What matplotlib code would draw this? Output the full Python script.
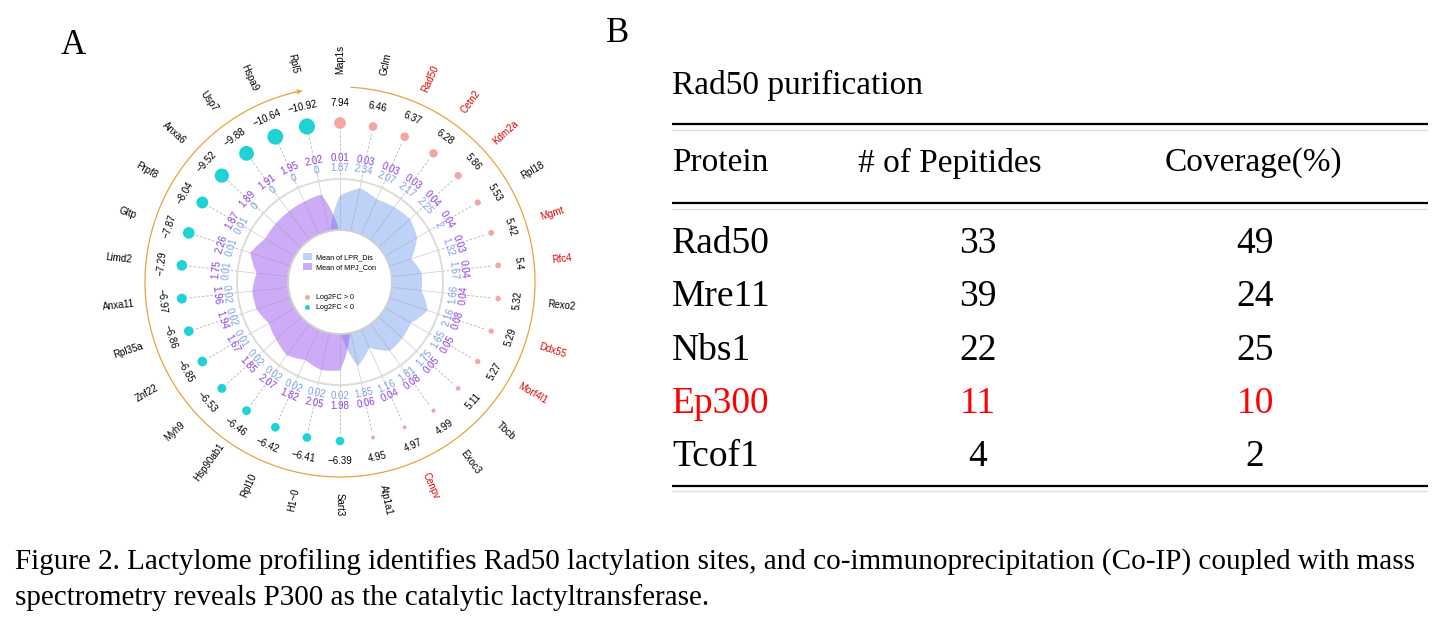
import numpy as np
import matplotlib
matplotlib.use("Agg")
import matplotlib.pyplot as plt
from matplotlib.path import Path
from matplotlib.patches import PathPatch, Circle, Patch
from matplotlib.lines import Line2D

# ---------------- data (panel A) ----------------
genes = ['Map1s', 'Gclm', 'Rad50', 'Cetn2', 'Kdm2a', 'Rpl18', 'Mgmt', 'Rfc4',
         'Rexo2', 'Ddx55', 'Morf4l1', 'Tbcb', 'Exoc3', 'Cenpv', 'Atp1a1',
         'Sart3', 'H1~0', 'Rpl10', 'Hsp90ab1', 'Myh9', 'Znf22', 'Rpl35a',
         'Anxa11', 'Limd2', 'Gltp', 'Prpf8', 'Anxa6', 'Usp7', 'Hspa9', 'Rpl5']
log2fc = [7.94, 6.46, 6.37, 6.28, 5.86, 5.53, 5.42, 5.4, 5.32, 5.29, 5.27, 5.11,
          4.99, 4.97, 4.95,
          -6.39, -6.41, -6.42, -6.46, -6.53, -6.85, -6.86, -6.97, -7.29, -7.87,
          -8.04, -9.52, -9.88, -10.64, -10.92]
mean_lpr_dis = [1.87, 2.34, 2.07, 2.17, 2.25, 2, 1.32, 1.67, 1.66, 2.16, 1.65,
                1.75, 1.81, 1.16, 1.85,
                0.02, 0.02, 0.02, 0.02, 0.02, 0.01, 0.02, 0.02, 0.01, 0.01,
                0.01, 0, 0, 0, 0]
mean_mpj_con = [0.01, 0.03, 0.03, 0.03, 0.04, 0.04, 0.03, 0.04, 0.04, 0.08,
                0.05, 0.05, 0.08, 0.04, 0.06,
                1.98, 2.05, 1.82, 2.07, 1.85, 1.67, 1.94, 1.96, 1.75, 2.26,
                1.87, 1.89, 1.91, 1.95, 2.02]
red_genes = ['Rad50', 'Cetn2', 'Kdm2a', 'Mgmt', 'Rfc4', 'Ddx55', 'Morf4l1', 'Cenpv']

# ---------------- data (panel B) ----------------
table_title = 'Rad50 purification'
col_headers = ['Protein', '# of Pepitides', 'Coverage(%)']
proteins = ['Rad50', 'Mre11', 'Nbs1', 'Ep300', 'Tcof1']
peptides = [33, 39, 22, 11, 4]
coverage = [49, 24, 25, 10, 2]
highlight = ['Ep300']
caption = ['Figure 2. Lactylome profiling identifies Rad50 lactylation sites, and co-immunoprecipitation (Co-IP) coupled with mass',
           'spectrometry reveals P300 as the catalytic lactyltransferase.']

# ---------------- styling ----------------
W, H = 1442, 621
BLUE_FILL = '#7FA5F0'
PURP_FILL = '#9B59F0'
BLUE_TXT = '#7E9FE8'
PURP_TXT = '#8A3FE0'
PINK = '#F4A7A2'
CYAN = '#1ED2D6'
ORANGE = '#E9A33B'
SANS = ['Liberation Sans', 'DejaVu Sans']
SERIF = ['Liberation Serif', 'DejaVu Serif']
FS_A = 7.0

fig = plt.figure(figsize=(W / 100, H / 100), dpi=100)
fig.patch.set_facecolor('white')

cx, cy, R = 340, 282, 240
ax = fig.add_axes([(cx - R) / W, (H - cy - R) / H, 2 * R / W, 2 * R / H],
                  projection='polar')
ax.set_theta_zero_location('N')
ax.set_theta_direction(-1)
ax.set_ylim(0, R)
ax.set_axis_off()

n = len(genes)
theta = np.arange(n) * 2 * np.pi / n
tdeg = np.rad2deg(theta)

r0, k = 48.0, 20.5          # radar base radius and px per unit
r_hole, r_ring = 52, 103
r_blue, r_purp = 114, 124
r_dot, r_val, r_arc, r_gene = 159, 179, 195, 223


def radar(vals, color, z):
    t = np.append(theta, 2 * np.pi)
    r = r0 + k * np.append(vals, vals[0])
    verts = np.column_stack([t, r])
    verts = np.vstack([verts, [[2 * np.pi, 0.0], [0.0, 0.0], verts[0]]])
    p = Path(verts, _interpolation_steps=40)
    ax.add_patch(PathPatch(p, facecolor=color, alpha=0.5, lw=0, zorder=z,
                           transform=ax.transData))


radar(np.array(mean_lpr_dis), BLUE_FILL, 1)
radar(np.array(mean_mpj_con), PURP_FILL, 1.1)

# spokes and rings
ax.vlines(theta, r_hole, r_ring, colors='#9a9a9a', lw=0.5, alpha=0.5, zorder=2)
ax.vlines(theta, r_ring, r_dot - 6, colors='#b5b5b5', lw=0.6,
          linestyles=(0, (3, 2)), zorder=2)
ax.add_patch(Circle((0.5, 0.5), r_ring / (2 * R), transform=ax.transAxes,
                    fill=False, ec='#dcdcdc', lw=1.4, zorder=2.5))
ax.add_patch(Circle((0.5, 0.5), r_hole / (2 * R), transform=ax.transAxes,
                    fc='white', ec='#cfcfcf', lw=1.4, zorder=3))


def tan_rot(d):
    return (90 - d) % 180 - 90


def gene_rot(d):
    return 90 - d if d <= 180 else 270 - d


def fmt(v):
    return f'{v:g}'.replace('-', '\u2212')


# inner numbers
for t, d, b, p in zip(theta, tdeg, mean_lpr_dis, mean_mpj_con):
    ax.text(t, r_blue, fmt(b), color=BLUE_TXT, fontsize=FS_A, family=SANS,
            rotation=tan_rot(d), rotation_mode='anchor', ha='center',
            va='center', zorder=4)
    ax.text(t, r_purp, fmt(p), color=PURP_TXT, fontsize=FS_A, family=SANS,
            rotation=tan_rot(d), rotation_mode='anchor', ha='center',
            va='center', zorder=4)

# dots
absfc = np.abs(np.array(log2fc))
smin, smax = 8, 135
sizes = smin + (absfc - absfc.min()) / (absfc.max() - absfc.min()) * (smax - smin)
dot_cols = [PINK if v > 0 else CYAN for v in log2fc]
ax.scatter(theta, np.full(n, r_dot), s=sizes, c=dot_cols, lw=0, zorder=4)

# value labels and gene labels
for t, d, v, g in zip(theta, tdeg, log2fc, genes):
    ax.text(t, r_val, fmt(v), color='black', fontsize=FS_A, family=SANS,
            rotation=tan_rot(d), rotation_mode='anchor', ha='center',
            va='center', zorder=4)
    ax.text(t, r_gene, g, color='#E00000' if g in red_genes else 'black',
            fontsize=FS_A, family=SANS, rotation=gene_rot(d),
            rotation_mode='anchor', ha='center', va='center', zorder=4,
            clip_on=False)

# orange arc with arrow
arc_t = np.deg2rad(np.linspace(3.3, 348.3, 400))
ax.plot(arc_t, np.full(arc_t.size, r_arc), color=ORANGE, lw=0.9, zorder=3,
        clip_on=False)
ax.annotate('', xy=(np.deg2rad(348.9), r_arc), xytext=(np.deg2rad(346.5), r_arc),
            arrowprops=dict(arrowstyle='->', color=ORANGE, lw=0.9,
                            mutation_scale=7, shrinkA=0, shrinkB=0), zorder=3)

# legends inside hole
h1 = [Patch(facecolor=BLUE_FILL, alpha=0.5, lw=0),
      Patch(facecolor=PURP_FILL, alpha=0.5, lw=0)]
leg1 = ax.legend(h1, ['Mean of LPR_Dis', 'Mean of MPJ_Con'], loc='upper left',
                 bbox_to_anchor=((303 - 100) / 480, 1 - (253 - 42) / 480),
                 frameon=False, prop={'family': SANS, 'size': 5.2},
                 handlelength=1.2, handleheight=1.2, handletextpad=0.6,
                 labelspacing=0.25, borderpad=0, borderaxespad=0)
leg1.set_zorder(6)
ax.add_artist(leg1)
h2 = [Line2D([], [], ls='', marker='o', ms=3.5, mfc=PINK, mec='none'),
      Line2D([], [], ls='', marker='o', ms=3.5, mfc=CYAN, mec='none')]
leg2 = ax.legend(h2, ['Log2FC > 0', 'Log2FC < 0'], loc='upper left',
                 bbox_to_anchor=((303 - 100) / 480, 1 - (294 - 42) / 480),
                 frameon=False, prop={'family': SANS, 'size': 5.2},
                 handlelength=1.2, handletextpad=0.6, labelspacing=0.45,
                 borderpad=0, borderaxespad=0)
leg2.set_zorder(6)

# ---------------- overlay axes for panel B / labels / caption ----------------
bx = fig.add_axes([0, 0, 1, 1], zorder=-1)
bx.set_xlim(0, W)
bx.set_ylim(H, 0)
bx.set_axis_off()

bx.text(61, 46, 'A', fontsize=25, family=SERIF, va='center', ha='left')
bx.text(606, 33, 'B', fontsize=25, family=SERIF, va='center', ha='left')

bx.text(672, 85, table_title, fontsize=24, family=SERIF, va='center', ha='left')

x0, x1 = 672, 1428
for y, c, lw in [(124, 'black', 1.6), (130, '#dddddd', 1.0),
                 (203, 'black', 1.6), (209, '#dddddd', 1.0),
                 (486, 'black', 1.6), (491, '#dddddd', 1.0)]:
    bx.plot([x0, x1], [y, y], color=c, lw=lw, solid_capstyle='butt')

col_x = [672, 950, 1253]
bx.text(col_x[0], 163, col_headers[0], fontsize=24, family=SERIF, va='center', ha='left')
bx.text(col_x[1], 163, col_headers[1], fontsize=24, family=SERIF, va='center', ha='center')
bx.text(col_x[2], 163, col_headers[2], fontsize=24, family=SERIF, va='center', ha='center')

row_y0, row_dy = 244, 53.2
num_x = [978, 1255]
for i, (p, a, c) in enumerate(zip(proteins, peptides, coverage)):
    y = row_y0 + i * row_dy
    col = '#FF0000' if p in highlight else 'black'
    bx.text(col_x[0], y, p, fontsize=27, family=SERIF, va='center', ha='left', color=col)
    bx.text(num_x[0], y, str(a), fontsize=27, family=SERIF, va='center', ha='center', color=col)
    bx.text(num_x[1], y, str(c), fontsize=27, family=SERIF, va='center', ha='center', color=col)

bx.text(15, 562, caption[0], fontsize=21, family=SERIF, va='center', ha='left')
bx.text(15, 598, caption[1], fontsize=21, family=SERIF, va='center', ha='left')

fig.savefig('out.png', dpi=100, facecolor='white')
